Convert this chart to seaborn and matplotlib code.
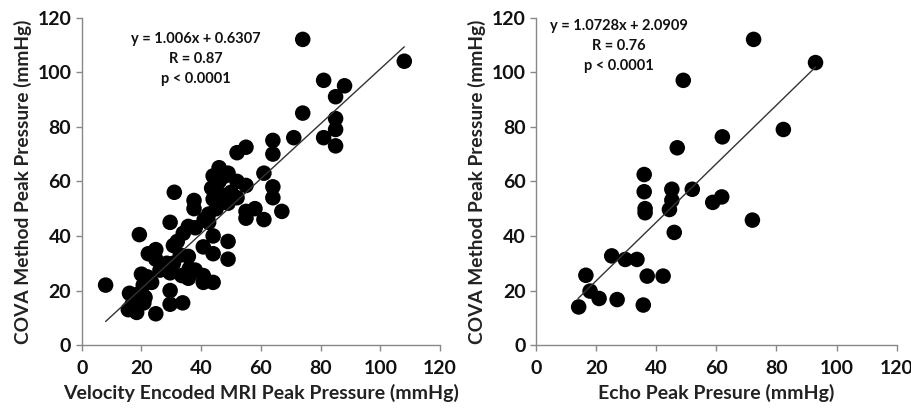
import numpy as np
import pandas as pd
import seaborn as sns
import matplotlib.pyplot as plt

# Left panel: velocity encoded MRI vs COVA
mri_x = [8, 108, 74, 81, 88, 85, 85, 85, 85, 81, 74, 71, 64, 64, 61, 64, 64, 67, 61, 58,
         55, 55, 52, 55, 55, 52, 52, 50, 49, 46, 44, 43.5, 44, 49, 42.5, 42.5, 44, 44, 40.7, 49,
         49, 37.6, 37.6, 38, 34, 35.7, 29.6, 31, 19.3, 30.7, 33, 35.7, 22.3, 24.8, 24.8, 28.5,
         30.7, 26.2, 29.6, 33.5, 35.7, 38, 40.7, 40.7, 44, 20, 20.6, 23.4, 16, 18.4, 21.2, 16.7,
         18.4, 15.6, 20.8, 24.8, 29.6, 29.6, 33.8, 46, 48, 47, 45, 41, 36, 32, 27, 22, 19, 17]
mri_y = [22, 104, 112, 97, 95, 91, 83, 79, 73, 76, 85, 76, 75, 70, 63, 58, 54, 49, 46, 50,
         49, 46.5, 70.5, 72.5, 58.5, 60, 54, 56, 63, 65, 62, 57.5, 53.5, 52, 48, 45, 40, 33.5, 36, 38,
         31.5, 53, 50, 43, 41, 43.5, 45, 56, 40.5, 36.5, 33, 32.5, 33.5, 35, 31.5, 30,
         30, 27.5, 26.5, 25.5, 24.5, 27.5, 25.5, 23, 23, 26, 22, 23, 19, 18.5, 17.5, 14.5,
         12, 13, 15.5, 11.5, 20, 15, 15.5, 60, 62, 55, 50, 46, 28, 38, 29, 25, 16, 15]
mri_fit = (1.006, 0.6307)
mri_range = (8, 108)

# Right panel: echo vs COVA
echo_x = [14.2, 16.6, 18, 21, 27, 25.2, 29.7, 33.6, 35.7, 37, 42.3, 36, 36, 36.3, 36.3,
          46, 44.4, 45.2, 45.2, 52, 47, 49, 58.8, 61.8, 62, 72, 72.4, 82.3, 93]
echo_y = [14, 25.6, 19.8, 17.1, 16.7, 32.7, 31.4, 31.4, 14.7, 25.3, 25.3, 62.5, 56.2, 50, 48.5,
          41.3, 49.7, 53.1, 57.1, 57.1, 72.3, 97, 52.3, 54.3, 76.3, 45.8, 112, 79, 103.5]
echo_fit = (1.0728, 2.0909)
echo_range = (14, 93)

panels = [
    (mri_x, mri_y, mri_fit, mri_range, "Velocity Encoded MRI Peak Pressure (mmHg)",
     ["y = 1.006x + 0.6307", "R = 0.87", "p < 0.0001"], (38.3, 114.6)),
    (echo_x, echo_y, echo_fit, echo_range, "Echo Peak Presure (mmHg)",
     ["y = 1.0728x + 2.0909", "R = 0.76", "p < 0.0001"], (27.6, 119.4)),
]
ticks = [0, 20, 40, 60, 80, 100, 120]

sns.set_style("ticks")
plt.rcParams['font.family'] = ['Lato', 'DejaVu Sans']

fig = plt.figure(figsize=(9.12, 4.08), dpi=100)
axes = [fig.add_axes([0.0896, 0.154, 0.393, 0.803]),
        fig.add_axes([0.5877, 0.154, 0.3955, 0.803])]

for ax, (xs, ys, fit, xr, xlabel, notes, npos) in zip(axes, panels):
    df = pd.DataFrame({"x": xs, "y": ys})
    sns.scatterplot(data=df, x="x", y="y", ax=ax, color="black", s=125,
                    edgecolor="none", zorder=3)
    line = pd.DataFrame({"x": list(xr)})
    line["y"] = fit[0] * line["x"] + fit[1]
    sns.lineplot(data=line, x="x", y="y", ax=ax, color="#333333", lw=1.0, zorder=4)
    ax.set_xlim(0, 120)
    ax.set_ylim(0, 120)
    ax.set_xticks(ticks)
    ax.set_yticks(ticks)
    ax.tick_params(axis="both", labelsize=14, color="#888888", labelcolor="#111111",
                   length=4, width=1)
    for lab in ax.get_xticklabels() + ax.get_yticklabels():
        lab.set_fontweight("bold")
    ax.tick_params(axis="x", pad=7)
    for sp in ["left", "bottom"]:
        ax.spines[sp].set_color("#888888")
        ax.spines[sp].set_linewidth(1.0)
    sns.despine(ax=ax)
    ax.set_xlabel(xlabel, fontsize=14, fontweight="bold", color="#222222", labelpad=5)
    ax.set_ylabel("COVA Method Peak Pressure (mmHg)", fontsize=13.8, fontweight="bold",
                  color="#222222", labelpad=4)
    ax.text(npos[0], npos[1], "\n".join(notes), ha="center", va="top", fontsize=10.5,
            fontweight="bold", linespacing=1.55, color="#111111")

fig.savefig("out.png", dpi=100)
